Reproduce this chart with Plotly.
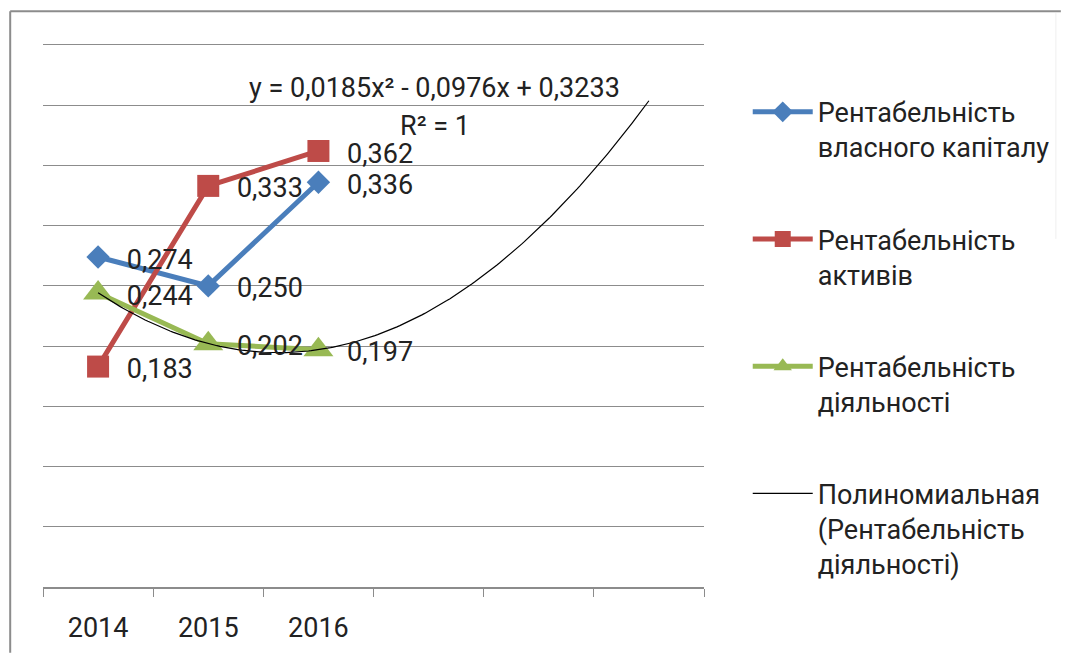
import numpy as np
import plotly.graph_objects as go

# Categories and series values
years = ["2014", "2015", "2016"]
roe = [0.274, 0.250, 0.336]        # Рентабельність власного капіталу
roa = [0.183, 0.333, 0.362]        # Рентабельність активів
ros = [0.244, 0.202, 0.197]        # Рентабельність діяльності

# Quadratic trend for ROS, coefficients as printed on the chart
trend_coef = [0.0185, -0.0976, 0.3233]
trend_periods = 6                  # 3 observed + 3 forecast periods

FONT = "Roboto"
FS = 27
TXT = "#222222"
x_pos = np.arange(1, len(years) + 1)

W, H = 1067, 656
L, R, T, B = 43, 359, 41, 66
pw, ph = W - L - R, H - T - B
# a little headroom above 0.45 so the top gridline is kept
y_top = 0.45 * ph / 545


def px_x(p):
    return (p - L) / pw


def px_y(p):
    return (H - B - p) / ph


series = [
    ("Рентабельність<br>власного капіталу", roe, "#4A7EBB", "diamond", 18),
    ("Рентабельність<br>активів", roa, "#BE4B48", "square", 22),
    ("Рентабельність<br>діяльності", ros, "#98B954", "triangle-up", 26),
]

fig = go.Figure()

for i, (name, vals, color, sym, size) in enumerate(series):
    fig.add_trace(go.Scatter(
        x=x_pos, y=vals, name=name, mode="lines+markers",
        line=dict(color=color, width=5),
        marker=dict(symbol=sym, size=size, color=color),
        legendgroup=f"g{i}", hoverinfo="skip",
    ))

# Trendline over the observed and forecast periods
tx = np.linspace(1, trend_periods, 200)
ty = np.polyval(trend_coef, tx)
fig.add_trace(go.Scatter(
    x=tx, y=ty, mode="lines",
    name="Полиномиальная<br>(Рентабельність<br>діяльності)",
    line=dict(color="black", width=1.2),
    legendgroup="g3", hoverinfo="skip",
))

# Data labels placed to the right of each point (small downward nudge)
label_dx = 0.26
label_dy = -0.004
for name, vals, color, sym, size in series:
    fig.add_trace(go.Scatter(
        x=x_pos + label_dx, y=np.array(vals) + label_dy, mode="text",
        text=[f"{v:.3f}".replace(".", ",") for v in vals],
        textposition="middle right",
        textfont=dict(family=FONT, size=FS, color=TXT),
        showlegend=False, hoverinfo="skip",
    ))

# Trendline equation
fig.add_annotation(
    x=4.055, y=0.4145, xref="x", yref="y", showarrow=False,
    text="y = 0,0185x² - 0,0976x + 0,3233",
    font=dict(family=FONT, size=FS, color=TXT),
)
fig.add_annotation(
    x=4.055, y=0.383, xref="x", yref="y", showarrow=False,
    text="R² = 1",
    font=dict(family=FONT, size=FS, color=TXT),
)

# Chart frame
frame = "#8c8c8c"
fig.add_shape(type="line", xref="paper", yref="paper",
              x0=px_x(10), x1=px_x(W), y0=px_y(11), y1=px_y(11),
              line=dict(color=frame, width=2))
fig.add_shape(type="line", xref="paper", yref="paper",
              x0=px_x(10), x1=px_x(10), y0=px_y(11), y1=px_y(H),
              line=dict(color=frame, width=2))
fig.add_shape(type="line", xref="paper", yref="paper",
              x0=px_x(1062), x1=px_x(1062), y0=px_y(13), y1=px_y(240),
              line=dict(color="#efefef", width=1))

fig.update_layout(
    width=W, height=H,
    margin=dict(l=L, r=R, t=T, b=B),
    paper_bgcolor="white", plot_bgcolor="white",
    font=dict(family=FONT, size=FS, color=TXT),
    showlegend=True,
    legend=dict(
        x=px_x(752), y=px_y(88), xanchor="left", yanchor="top",
        font=dict(family=FONT, size=FS, color=TXT),
        tracegroupgap=54, valign="top", itemwidth=60,
        bgcolor="rgba(0,0,0,0)",
    ),
    xaxis=dict(
        range=[0.5, trend_periods + 0.5],
        tickvals=list(x_pos), ticktext=years,
        ticks="outside", ticklen=16, tickcolor="rgba(0,0,0,0)",
        showgrid=False, zeroline=False,
        showline=True, linecolor=frame, linewidth=1.5,
        tickfont=dict(family=FONT, size=FS, color=TXT),
        minor=dict(tickvals=list(np.arange(0.5, trend_periods + 1, 1.0)),
                   ticks="outside", ticklen=8, tickcolor=frame, tickwidth=1.2,
                   showgrid=False),
        fixedrange=True,
    ),
    yaxis=dict(
        range=[0, y_top], dtick=0.05, tick0=0,
        showgrid=True, gridcolor=frame, gridwidth=1.2,
        showticklabels=False, ticks="", zeroline=False, showline=False,
        fixedrange=True,
    ),
)

fig.write_html("out.html")
